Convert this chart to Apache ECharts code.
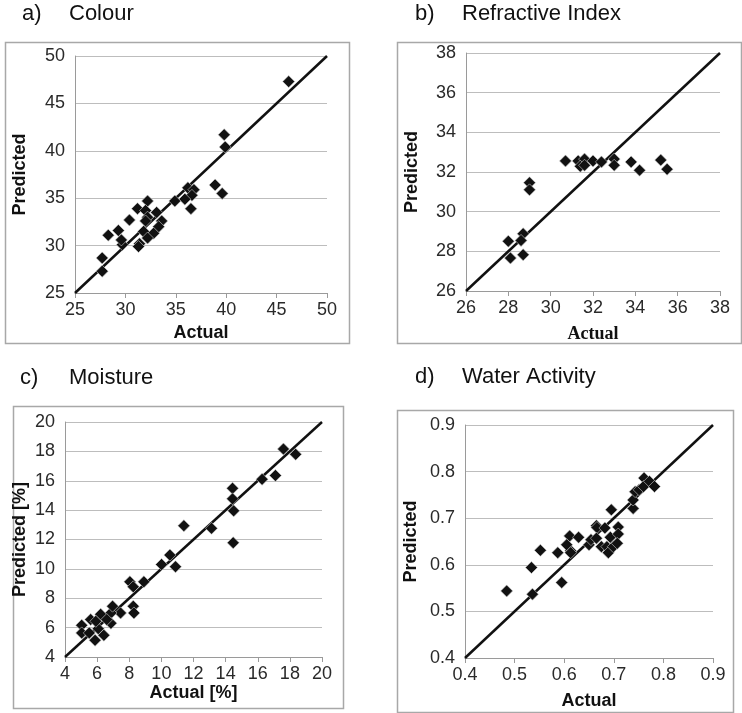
<!DOCTYPE html>
<html><head><meta charset="utf-8">
<script src="https://cdn.jsdelivr.net/npm/echarts@6/dist/echarts.min.js"></script>
<style>html,body{margin:0;padding:0;background:#fff}#c{width:742px;height:713px}</style>
</head><body><div id="c"></div>
<script>
// ---- Data ----
const colourActual    = [46.2,39.8,39.9,38.9,39.6,36.2,36.8,36.6,35.9,36.5,34.9,32.2,31.2,32.0,33.1,32.2,32.0,33.6,30.4,33.3,31.8,32.8,32.2,29.3,28.3,29.7,29.6,31.4,31.3,27.7,27.7];
const colourPredicted = [47.3,41.7,40.4,36.4,35.5,36.1,35.9,35.3,34.9,33.9,34.7,34.7,33.9,33.7,33.5,33.0,32.6,32.6,32.7,32.0,31.5,31.3,30.8,31.6,31.1,30.1,30.6,30.2,29.9,28.7,27.3];

const riActual    = [30.7,31.3,31.6,31.4,31.6,32.0,32.4,33.0,33.0,33.8,34.2,35.2,35.5,29.0,29.0,28.7,28.6,28.0,28.1,28.7];
const riPredicted = [32.56,32.56,32.65,32.29,32.34,32.56,32.51,32.65,32.34,32.51,32.09,32.6,32.14,31.46,31.1,28.89,28.55,28.51,27.66,27.83];

const moistActual    = [17.6,18.36,16.27,17.1,14.43,14.43,14.5,14.47,13.12,11.4,10.53,10.01,10.88,8.04,8.25,8.91,8.25,8.29,7.46,6.86,6.96,6.22,5.6,6.86,5.04,6.07,5.04,5.51,6.42,5.87,6.6,5.92];
const moistPredicted = [18.16,17.8,16.1,16.36,15.49,14.77,13.95,11.78,12.76,12.94,10.94,10.3,10.15,9.12,8.78,9.12,7.46,7.0,7.0,7.0,7.46,6.91,6.55,6.3,6.16,5.93,5.64,5.64,5.48,5.14,6.55,6.43];

const awActual    = [0.484,0.536,0.534,0.552,0.587,0.595,0.611,0.613,0.629,0.605,0.613,0.650,0.654,0.665,0.666,0.665,0.675,0.682,0.686,0.689,0.695,0.693,0.699,0.709,0.709,0.707,0.739,0.739,0.743,0.751,0.761,0.760,0.772,0.782];
const awPredicted = [0.544,0.537,0.594,0.631,0.626,0.562,0.662,0.630,0.659,0.643,0.626,0.643,0.654,0.684,0.680,0.657,0.639,0.679,0.639,0.626,0.718,0.659,0.639,0.681,0.666,0.646,0.721,0.739,0.757,0.761,0.786,0.768,0.779,0.768];

const colourTicks = {min:25, max:50, interval:5};
const riTicks     = {min:26, max:38, interval:2};
const moistTicks  = {min:4,  max:20, interval:2};
const awTicks     = {min:0.4, max:0.9, interval:0.1};

// ---- Layout ----
const panels = [
  {ticks:colourTicks, xs:colourActual, ys:colourPredicted, grid:{left:75,top:56,width:252,height:237},
   xName:'Actual', yName:'Predicted', xGap:31, yGap:46, xFont:'Liberation Sans', dec:0},
  {ticks:riTicks, xs:riActual, ys:riPredicted, grid:{left:466,top:53,width:254,height:238},
   xName:'Actual', yName:'Predicted', xGap:34, yGap:45, xFont:'Liberation Serif', dec:0},
  {ticks:moistTicks, xs:moistActual, ys:moistPredicted, grid:{left:65,top:422,width:257,height:235},
   xName:'Actual [%]', yName:'Predicted [%]', xGap:27, yGap:36, xFont:'Liberation Sans', dec:0},
  {ticks:awTicks, xs:awActual, ys:awPredicted, grid:{left:465,top:425,width:248,height:233},
   xName:'Actual', yName:'Predicted', xGap:34, yGap:45, xFont:'Liberation Sans', dec:1}
];

const F = 'Liberation Sans, Arial, sans-serif';
const grids=[], xAxes=[], yAxes=[], series=[];
panels.forEach((p,i)=>{
  grids.push(Object.assign({containLabel:false}, p.grid));
  xAxes.push({
    type:'value', gridIndex:i, min:p.ticks.min, max:p.ticks.max, interval:p.ticks.interval,
    axisLine:{show:true, onZero:false, lineStyle:{color:'#9a9a9a', width:1}},
    axisTick:{show:true, length:5, lineStyle:{color:'#9a9a9a'}},
    splitLine:{show:false},
    axisLabel:{fontFamily:F, fontSize:18, color:'#2a2a2a', margin:8,
      formatter:v=>v.toFixed(p.dec)},
    name:p.xName, nameLocation:'middle', nameGap:p.xGap,
    nameTextStyle:{fontFamily:p.xFont, fontWeight:'bold', fontSize:18, color:'#111', verticalAlign:'top'}
  });
  yAxes.push({
    type:'value', gridIndex:i, min:p.ticks.min, max:p.ticks.max, interval:p.ticks.interval,
    axisLine:{show:true, onZero:false, lineStyle:{color:'#9a9a9a', width:1}},
    axisTick:{show:false},
    splitLine:{show:true, lineStyle:{color:'#bdbdbd', width:1.2}},
    axisLabel:{fontFamily:F, fontSize:18, color:'#2a2a2a', margin:10,
      formatter:v=>v.toFixed(p.dec)},
    name:p.yName, nameLocation:'middle', nameGap:p.yGap, nameRotate:90,
    nameTextStyle:{fontFamily:F, fontWeight:'bold', fontSize:18, color:'#111'}
  });
  series.push({
    type:'line', xAxisIndex:i, yAxisIndex:i, symbol:'none', silent:true,
    data:[[p.ticks.min,p.ticks.min],[p.ticks.max,p.ticks.max]],
    lineStyle:{color:'#111', width:2.5}, z:3
  });
  series.push({
    type:'scatter', xAxisIndex:i, yAxisIndex:i, symbol:'diamond', symbolSize:[12,12],
    data:p.xs.map((x,k)=>[x,p.ys[k]]),
    itemStyle:{color:'#111', borderColor:'#cfcfcf', borderWidth:0.6, opacity:1}, z:4
  });
});

const titleStyle = {fontFamily:F, fontSize:22, fontWeight:'normal', color:'#111'};
const titles = [
  {text:'a)', left:22, top:3}, {text:'Colour', left:69, top:3},
  {text:'b)', left:415, top:3}, {text:'Refractive Index', left:462, top:3},
  {text:'c)', left:20, top:367}, {text:'Moisture', left:69, top:367},
  {text:'d)', left:415, top:366}, {text:'Water Activity', left:462, top:366}
].map(t=>Object.assign({textStyle:titleStyle, padding:0}, t));

const boxes = [[5,42,344,301],[397,42,344,301],[13,406,330,302],[397,410,336,302]].map(b=>({
  type:'rect', shape:{x:b[0]+0.5,y:b[1]+0.5,width:b[2],height:b[3]},
  style:{fill:'none', stroke:'#a8a8a8', lineWidth:1.5}, silent:true
}));

const chart = echarts.init(document.getElementById('c'), null, {renderer:'canvas'});
chart.setOption({
  animation:false, backgroundColor:'#fff',
  title:titles, grid:grids, xAxis:xAxes, yAxis:yAxes, series:series,
  graphic:boxes
});
</script></body></html>
